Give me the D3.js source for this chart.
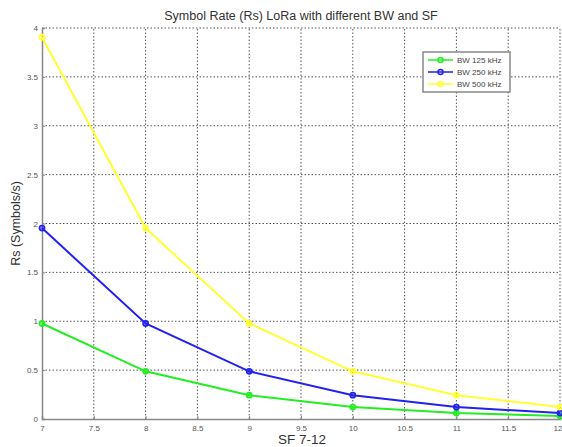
<!DOCTYPE html>
<html><head><meta charset="utf-8">
<script src="https://cdn.jsdelivr.net/npm/d3@7"></script>
<style>body{margin:0;background:#fff;}svg{display:block;font-family:Arial,"Liberation Sans",sans-serif;}</style>
</head><body>
<script>
const sf = [7, 8, 9, 10, 11, 12];
const bw125 = [0.977, 0.488, 0.244, 0.122, 0.061, 0.031];
const bw250 = [1.953, 0.977, 0.488, 0.244, 0.122, 0.061];
const bw500 = [3.906, 1.953, 0.977, 0.488, 0.244, 0.122];
const seriesNames = ["BW 125 kHz", "BW 250 kHz", "BW 500 kHz"];
const seriesColors = ["#22ee22", "#2222ee", "#ffff33"];
const xTicks = [7, 7.5, 8, 8.5, 9, 9.5, 10, 10.5, 11, 11.5, 12];
const yTicks = [0, 0.5, 1, 1.5, 2, 2.5, 3, 3.5, 4];

const W = 562, H = 447;
const m = {l: 42, t: 28, r: 2, b: 28};
const svg = d3.select("body").append("svg").attr("width", W).attr("height", H);
const x = d3.scaleLinear().domain([7, 12]).range([m.l, W - m.r]);
const y = d3.scaleLinear().domain([0, 4]).range([H - m.b, m.t]);

// grid
const g = svg.append("g");
g.selectAll(".vg").data(xTicks.slice(1)).enter().append("line")
  .attr("x1", d => x(d)).attr("x2", d => x(d)).attr("y1", y(0)).attr("y2", y(4))
  .attr("stroke", "#555").attr("stroke-width", 1).attr("stroke-dasharray", "1.5,2");
g.selectAll(".hg").data(yTicks.slice(1)).enter().append("line")
  .attr("x1", x(7)).attr("x2", x(12)).attr("y1", d => y(d)).attr("y2", d => y(d))
  .attr("stroke", "#555").attr("stroke-width", 1).attr("stroke-dasharray", "1.5,2");

// axes
const xa = svg.append("g").attr("transform", `translate(0,${y(0)})`)
  .call(d3.axisBottom(x).tickValues(xTicks).tickSize(-3).tickPadding(6).tickFormat(d3.format("")));
const ya = svg.append("g").attr("transform", `translate(${x(7)},0)`)
  .call(d3.axisLeft(y).tickValues(yTicks).tickSize(-3).tickPadding(4).tickFormat(d3.format("")));
[xa, ya].forEach(a => {
  a.select(".domain").attr("stroke", "#888").attr("stroke-width", 1.5);
  a.selectAll(".tick line").attr("stroke", "#888");
  a.selectAll(".tick text").attr("fill", "#555").attr("font-size", 8).attr("font-family", "Arial, 'Liberation Sans', sans-serif");
});
xa.selectAll(".tick text").filter(d => d === 12).attr("text-anchor", "end").attr("dx", 2);

// lines
const data = [bw125, bw250, bw500];
const line = d3.line().x((d, i) => x(sf[i])).y(d => y(d));
data.forEach((s, k) => {
  svg.append("path").datum(s).attr("d", line).attr("fill", "none")
    .attr("stroke", seriesColors[k]).attr("stroke-width", 2);
  svg.selectAll(".m" + k).data(s).enter().append("circle")
    .attr("cx", (d, i) => x(sf[i])).attr("cy", d => y(d)).attr("r", 2.6)
    .attr("fill", seriesColors[k]).attr("fill-opacity", 0.5)
    .attr("stroke", seriesColors[k]).attr("stroke-width", 1.6);
});

// title & labels
svg.append("text").attr("x", 301).attr("y", 20).attr("text-anchor", "middle")
  .attr("font-size", 12.5).attr("fill", "#333").text("Symbol Rate (Rs) LoRa with different BW and SF");
svg.append("text").attr("x", 302).attr("y", 444).attr("text-anchor", "middle")
  .attr("font-size", 13.5).attr("fill", "#333").text("SF 7-12");
svg.append("text").attr("transform", `translate(20,${(y(0) + y(4)) / 2}) rotate(-90)`)
  .attr("text-anchor", "middle").attr("font-size", 12.5).attr("fill", "#333").text("Rs (Symbols/s)");

// legend
const lg = svg.append("g").attr("transform", "translate(423,52)");
lg.append("rect").attr("width", 87).attr("height", 40).attr("fill", "#fff")
  .attr("stroke", "#888").attr("stroke-width", 1.5);
seriesNames.forEach((n, k) => {
  const yy = 8 + k * 12;
  lg.append("line").attr("x1", 5).attr("x2", 30).attr("y1", yy).attr("y2", yy)
    .attr("stroke", seriesColors[k]).attr("stroke-width", 1.5);
  lg.append("circle").attr("cx", 17.5).attr("cy", yy).attr("r", 2.5).attr("fill", "none")
    .attr("stroke", seriesColors[k]).attr("stroke-width", 1.5);
  lg.append("text").attr("x", 34).attr("y", yy + 3).attr("font-size", 8).attr("fill", "#444").text(n);
});
</script>
</body></html>
